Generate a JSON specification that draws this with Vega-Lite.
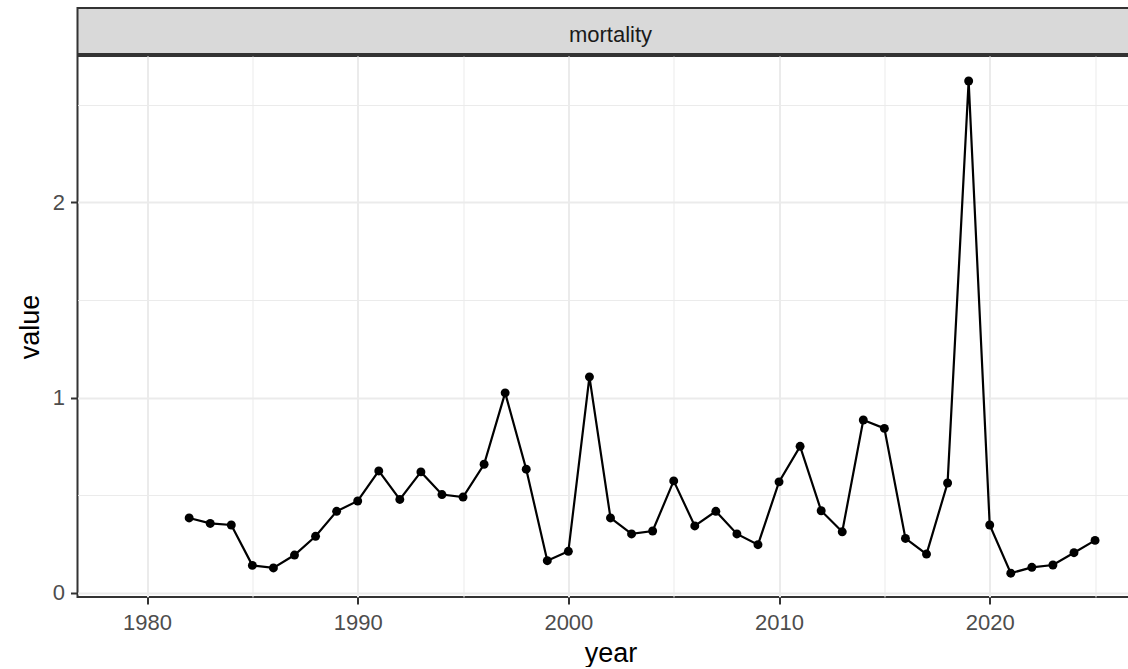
{
  "$schema": "https://vega.github.io/schema/vega-lite/v6.json",
  "background": "white",
  "padding": {"left": 14.5, "top": 7, "right": 0, "bottom": 0},
  "spacing": 0,
  "datasets": {
    "series": [
      {"year": 1982, "value": 0.383},
      {"year": 1983, "value": 0.355},
      {"year": 1984, "value": 0.347},
      {"year": 1985, "value": 0.140},
      {"year": 1986, "value": 0.127},
      {"year": 1987, "value": 0.193},
      {"year": 1988, "value": 0.289},
      {"year": 1989, "value": 0.417},
      {"year": 1990, "value": 0.470},
      {"year": 1991, "value": 0.624},
      {"year": 1992, "value": 0.478},
      {"year": 1993, "value": 0.619},
      {"year": 1994, "value": 0.503},
      {"year": 1995, "value": 0.490},
      {"year": 1996, "value": 0.658},
      {"year": 1997, "value": 1.024},
      {"year": 1998, "value": 0.633},
      {"year": 1999, "value": 0.164},
      {"year": 2000, "value": 0.212},
      {"year": 2001, "value": 1.106},
      {"year": 2002, "value": 0.383},
      {"year": 2003, "value": 0.301},
      {"year": 2004, "value": 0.316},
      {"year": 2005, "value": 0.573},
      {"year": 2006, "value": 0.342},
      {"year": 2007, "value": 0.417},
      {"year": 2008, "value": 0.301},
      {"year": 2009, "value": 0.246},
      {"year": 2010, "value": 0.568},
      {"year": 2011, "value": 0.750},
      {"year": 2012, "value": 0.420},
      {"year": 2013, "value": 0.312},
      {"year": 2014, "value": 0.885},
      {"year": 2015, "value": 0.842},
      {"year": 2016, "value": 0.278},
      {"year": 2017, "value": 0.198},
      {"year": 2018, "value": 0.562},
      {"year": 2019, "value": 2.622},
      {"year": 2020, "value": 0.347},
      {"year": 2021, "value": 0.100},
      {"year": 2022, "value": 0.130},
      {"year": 2023, "value": 0.142},
      {"year": 2024, "value": 0.205},
      {"year": 2025, "value": 0.268}
    ],
    "strip": [{"panel": "mortality"}]
  },
  "vconcat": [
    {
      "data": {"name": "strip"},
      "width": 1066,
      "height": 46,
      "view": {"fill": "#D9D9D9", "stroke": "#333333", "strokeWidth": 2},
      "mark": {"type": "text", "fontSize": 22, "color": "#1A1A1A", "baseline": "alphabetic", "dy": 10.7, "font": "Liberation Sans"},
      "encoding": {"text": {"field": "panel"}}
    },
    {
      "data": {"name": "series"},
      "width": 1066,
      "height": 541,
      "view": {"fill": "white", "stroke": "#333333", "strokeWidth": 2},
      "encoding": {
        "x": {
          "field": "year", "type": "quantitative",
          "scale": {"domain": [1976.7, 2027.3], "nice": false, "zero": false},
          "axis": {
            "title": "year",
            "values": [1980, 1985, 1990, 1995, 2000, 2005, 2010, 2015, 2020, 2025],
            "labelExpr": "datum.value % 10 === 0 ? format(datum.value, 'd') : ''",
            "tickOpacity": {"condition": {"test": "datum.value % 10 === 0", "value": 1}, "value": 0},
            "gridWidth": {"condition": {"test": "datum.value % 10 === 0", "value": 2}, "value": 1}
          }
        },
        "y": {
          "field": "value", "type": "quantitative",
          "scale": {"domain": [-0.022, 2.75], "nice": false, "zero": false},
          "axis": {
            "title": "value",
            "values": [0, 0.5, 1, 1.5, 2, 2.5],
            "labelExpr": "datum.value % 1 === 0 ? format(datum.value, 'd') : ''",
            "tickOpacity": {"condition": {"test": "datum.value % 1 === 0", "value": 1}, "value": 0},
            "gridWidth": {"condition": {"test": "datum.value % 1 === 0", "value": 2}, "value": 1}
          }
        }
      },
      "layer": [
        {"mark": {"type": "line", "color": "black", "strokeWidth": 2.2}},
        {"mark": {"type": "point", "filled": true, "color": "black", "size": 80, "opacity": 1}}
      ]
    }
  ],
  "config": {
    "font": "Liberation Sans",
    "axis": {
      "domain": false,
      "grid": true,
      "gridColor": "#EBEBEB",
      "ticks": true,
      "tickColor": "#333333",
      "tickWidth": 2,
      "tickSize": 7,
      "labelColor": "#4D4D4D",
      "labelFontSize": 22,
      "labelFont": "Liberation Sans",
      "labelPadding": 6,
      "labelFlush": false,
      "labelOverlap": false,
      "titleColor": "black",
      "titleFontSize": 27,
      "titleFont": "Liberation Sans",
      "titleFontWeight": "normal"
    },
    "axisX": {"labelPadding": 8, "titlePadding": 7},
    "axisY": {"titlePadding": 8}
  }
}
